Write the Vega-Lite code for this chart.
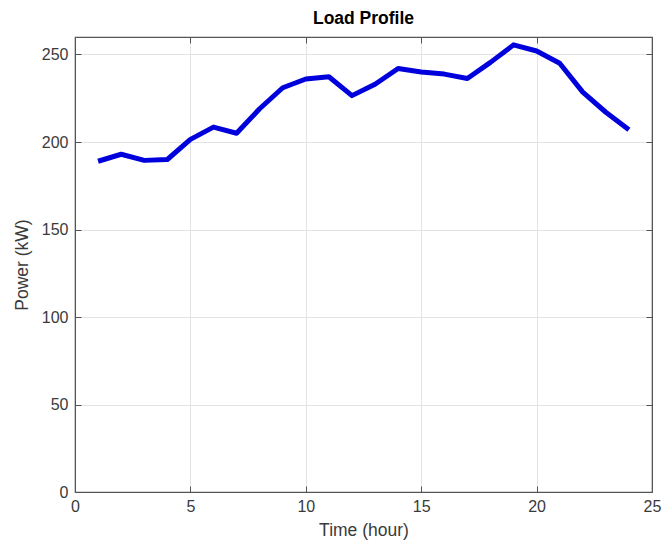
{
  "$schema": "https://vega.github.io/schema/vega-lite/v6.json",
  "width": 577,
  "height": 455,
  "autosize": {"type": "none"},
  "padding": {"left": 75, "top": 37, "right": 11, "bottom": 55},
  "background": "white",
  "title": {"text": "Load Profile", "font": "Liberation Sans", "fontSize": 17.5, "fontWeight": "bold", "color": "#000000", "offset": 9},
  "data": {"values": [
    {"hour": 1, "power": 189},
    {"hour": 2, "power": 193},
    {"hour": 3, "power": 189.5},
    {"hour": 4, "power": 190},
    {"hour": 5, "power": 201.5},
    {"hour": 6, "power": 208.5},
    {"hour": 7, "power": 205},
    {"hour": 8, "power": 219},
    {"hour": 9, "power": 231},
    {"hour": 10, "power": 236},
    {"hour": 11, "power": 237.3},
    {"hour": 12, "power": 226.5},
    {"hour": 13, "power": 233},
    {"hour": 14, "power": 242},
    {"hour": 15, "power": 240},
    {"hour": 16, "power": 238.8},
    {"hour": 17, "power": 236.3},
    {"hour": 18, "power": 245.5},
    {"hour": 19, "power": 255.5},
    {"hour": 20, "power": 252},
    {"hour": 21, "power": 245},
    {"hour": 22, "power": 228.5},
    {"hour": 23, "power": 217},
    {"hour": 24, "power": 207}
  ]},
  "config": {
    "view": {"stroke": "#555555", "strokeWidth": 1.2},
    "axis": {
      "labelFont": "Liberation Sans",
      "titleFont": "Liberation Sans",
      "labelFontSize": 16,
      "titleFontSize": 17.5,
      "labelColor": "#3a3a3a",
      "titleColor": "#3a3a3a",
      "titleFontWeight": "normal",
      "domainColor": "#555555",
      "tickColor": "#555555",
      "tickSize": -6,
      "gridColor": "#e3e3e3"
    }
  },
  "resolve": {"axis": {"x": "independent", "y": "independent"}},
  "layer": [
    {
      "mark": {"type": "line", "color": "#0000dd", "strokeWidth": 5, "strokeJoin": "round"},
      "encoding": {
        "x": {"field": "hour", "type": "quantitative",
              "scale": {"domain": [0, 25], "nice": false},
              "axis": {"orient": "bottom", "title": "Time (hour)", "values": [0, 5, 10, 15, 20, 25], "labelPadding": 12, "titlePadding": 7, "grid": true, "labelFlush": false}},
        "y": {"field": "power", "type": "quantitative",
              "scale": {"domain": [0, 260], "nice": false, "zero": true},
              "axis": {"orient": "left", "title": "Power (kW)", "values": [0, 50, 100, 150, 200, 250], "labelPadding": 13, "titlePadding": 10, "grid": true}}
      }
    },
    {
      "mark": {"type": "point", "opacity": 0},
      "encoding": {
        "x": {"field": "hour", "type": "quantitative",
              "scale": {"domain": [0, 25], "nice": false},
              "axis": {"orient": "top", "title": null, "values": [0, 5, 10, 15, 20, 25], "labels": false, "grid": false}},
        "y": {"field": "power", "type": "quantitative",
              "scale": {"domain": [0, 260], "nice": false},
              "axis": {"orient": "right", "title": null, "values": [0, 50, 100, 150, 200, 250], "labels": false, "grid": false}}
      }
    }
  ]
}
